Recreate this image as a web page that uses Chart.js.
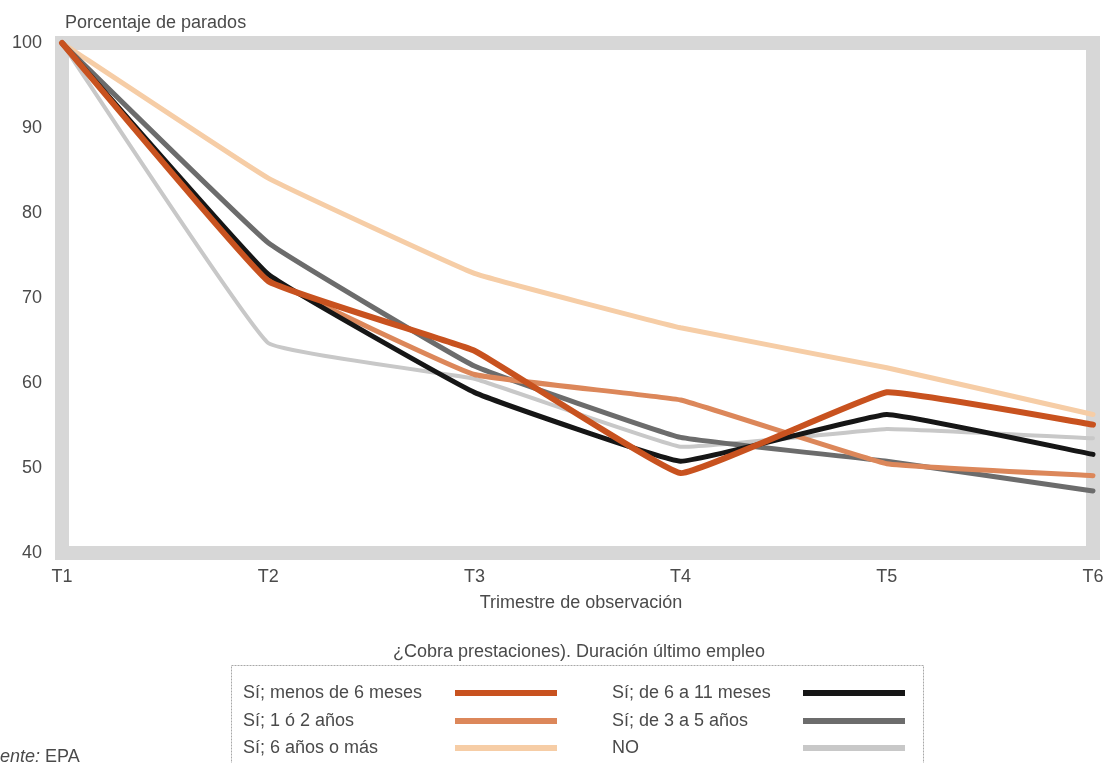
<!DOCTYPE html>
<html>
<head>
<meta charset="utf-8">
<script src="https://cdn.jsdelivr.net/npm/chart.js@4"></script>
<style>
  html, body { margin: 0; padding: 0; background: #ffffff; }
  #wrap { width: 1108px; height: 763px; }
</style>
</head>
<body>
<div id="wrap"><canvas id="c" width="1108" height="763"></canvas></div>
<script>
// Quarters of observation
const periods = ['T1', 'T2', 'T3', 'T4', 'T5', 'T6'];

// Percentage of people still unemployed, by benefit status / length of last job
const menos6Meses = [100, 72.0, 63.8, 49.4, 58.9, 55.1];
const de6a11Meses = [100, 72.8, 58.9, 50.8, 56.3, 51.6];
const de1a2Anos   = [100, 72.5, 61.0, 58.0, 50.5, 49.1];
const de3a5Anos   = [100, 76.5, 62.0, 53.6, 50.8, 47.3];
const de6AnosMas  = [100, 84.1, 72.9, 66.5, 61.8, 56.3];
const noCobra     = [100, 64.7, 60.5, 52.5, 54.6, 53.5];

const yTicks = [40, 50, 60, 70, 80, 90, 100];

const seriesNames = [
  'Sí; menos de 6 meses', 'Sí; de 6 a 11 meses',
  'Sí; 1 ó 2 años', 'Sí; de 3 a 5 años',
  'Sí; 6 años o más', 'NO'
];

const FONT = '"Liberation Sans", Arial, Helvetica, sans-serif';
const FONT_SIZE = 18;
const TEXT = '#4a4a4a';

const series = [
  { data: menos6Meses, color: '#c8521f', width: 6 },
  { data: de6a11Meses, color: '#161616', width: 5 },
  { data: de1a2Anos,   color: '#dc875a', width: 5 },
  { data: de3a5Anos,   color: '#6c6c6c', width: 5 },
  { data: de6AnosMas,  color: '#f6cda6', width: 5 },
  { data: noCobra,     color: '#c8c8c8', width: 4 }
];

const datasets = series.map((s, i) => ({
  label: seriesNames[i],
  data: s.data,
  borderColor: s.color,
  backgroundColor: s.color,
  borderWidth: s.width,
  pointRadius: 0,
  tension: 0.08,
  borderJoinStyle: 'round',
  borderCapStyle: 'round',
  fill: false,
  clip: false
}));

// Thick grey frame around the plotting area
const framePlugin = {
  id: 'frame',
  beforeDatasetsDraw(chart) {
    const { ctx, chartArea: a } = chart;
    ctx.save();
    ctx.strokeStyle = '#d7d7d7';
    ctx.lineWidth = 14;
    ctx.strokeRect(a.left, a.top, a.right - a.left, a.bottom - a.top);
    ctx.restore();
  }
};

// Titles, boxed legend and source note
const decorPlugin = {
  id: 'decor',
  afterDraw(chart) {
    const { ctx } = chart;
    ctx.save();
    ctx.fillStyle = TEXT;
    ctx.font = FONT_SIZE + 'px ' + FONT;
    ctx.textBaseline = 'middle';

    ctx.textAlign = 'left';
    ctx.fillText('Porcentaje de parados', 65, 23);

    ctx.textAlign = 'center';
    ctx.fillText('Trimestre de observación', 581, 603);
    ctx.fillText('¿Cobra prestaciones). Duración último empleo', 579, 652);

    // legend box
    ctx.strokeStyle = '#a8a8a8';
    ctx.lineWidth = 1;
    ctx.setLineDash([2, 1]);
    ctx.strokeRect(231.5, 665.5, 692, 130);
    ctx.setLineDash([]);

    const rows = [693, 721, 748];
    const cols = [
      { text: 243, sx0: 455, sx1: 557 },
      { text: 612, sx0: 803, sx1: 905 }
    ];
    ctx.textAlign = 'left';
    chart.data.datasets.forEach((ds, i) => {
      const col = cols[i % 2];
      const y = rows[Math.floor(i / 2)];
      ctx.fillStyle = TEXT;
      ctx.fillText(ds.label, col.text, y);
      ctx.strokeStyle = ds.borderColor;
      ctx.lineWidth = 6;
      ctx.lineCap = 'butt';
      ctx.beginPath();
      ctx.moveTo(col.sx0, y);
      ctx.lineTo(col.sx1, y);
      ctx.stroke();
    });

    // source note
    ctx.fillStyle = TEXT;
    ctx.font = 'italic ' + FONT_SIZE + 'px ' + FONT;
    const fx = -21;
    ctx.fillText('Fuente:', fx, 757);
    const w = ctx.measureText('Fuente:').width;
    ctx.font = FONT_SIZE + 'px ' + FONT;
    ctx.fillText(' EPA', fx + w, 757);
    ctx.restore();
  }
};

new Chart(document.getElementById('c').getContext('2d'), {
  type: 'line',
  data: { labels: periods, datasets },
  options: {
    responsive: false,
    animation: false,
    layout: { padding: { left: 0, right: 15, top: 43, bottom: 140 } },
    plugins: {
      legend: { display: false },
      tooltip: { enabled: false }
    },
    scales: {
      x: {
        offset: false,
        grid: { display: false, drawTicks: false },
        border: { display: false },
        ticks: { padding: 13, color: TEXT, font: { family: FONT, size: FONT_SIZE }, maxRotation: 0 },
        afterFit(scale) {
          scale.height = 70;
          scale.paddingLeft = 0;
          scale.paddingRight = 0;
        }
      },
      y: {
        min: 40,
        max: 100,
        afterBuildTicks(scale) { scale.ticks = yTicks.map(v => ({ value: v })); },
        grid: { display: false, drawTicks: false },
        border: { display: false },
        ticks: { padding: 20, color: TEXT, font: { family: FONT, size: FONT_SIZE } },
        afterFit(scale) { scale.width = 62; }
      }
    }
  },
  plugins: [framePlugin, decorPlugin]
});
</script>
</body>
</html>
